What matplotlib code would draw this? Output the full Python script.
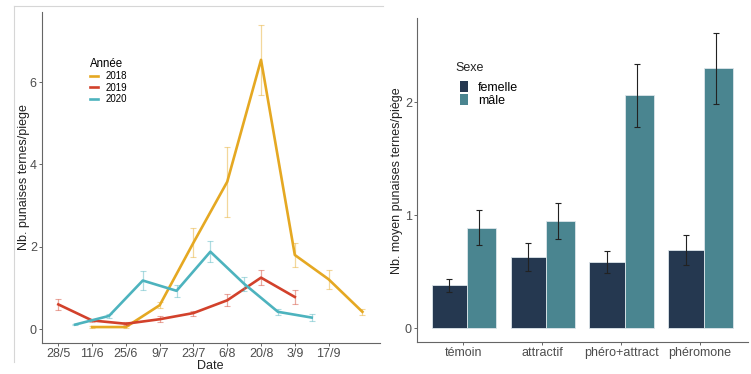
import numpy as np
import pandas as pd
import matplotlib
matplotlib.use("Agg")
import matplotlib.pyplot as plt
from matplotlib.lines import Line2D
from matplotlib.patches import Patch

plt.rcParams['font.family'] = ['Liberation Sans', 'DejaVu Sans']

# --- left panel data: mean bugs per trap by date and year
dates_2018 = ["11/6", "25/6", "9/7", "23/7", "6/8", "20/8", "3/9", "17/9", "1/10"]
vals_2018 = [0.05, 0.05, 0.58, 2.10, 3.58, 6.54, 1.80, 1.21, 0.42]
err_2018 = [0.02, 0.02, 0.07, 0.35, 0.85, 0.85, 0.28, 0.23, 0.08]

dates_2019 = ["28/5", "11/6", "25/6", "9/7", "23/7", "6/8", "20/8", "3/9"]
vals_2019 = [0.60, 0.21, 0.13, 0.24, 0.39, 0.70, 1.25, 0.78]
err_2019 = [0.14, 0.04, 0.04, 0.07, 0.06, 0.15, 0.19, 0.16]

dates_2020 = ["4/6", "18/6", "2/7", "16/7", "30/7", "13/8", "27/8", "10/9"]
vals_2020 = [0.11, 0.32, 1.18, 0.93, 1.88, 1.10, 0.42, 0.28]
err_2020 = [0.02, 0.05, 0.24, 0.15, 0.25, 0.17, 0.08, 0.09]

tick_dates = ["28/5", "11/6", "25/6", "9/7", "23/7", "6/8", "20/8", "3/9", "17/9"]

# --- right panel data: mean per trap type and sex
traps = ["témoin", "attractif", "phéro+attract", "phéromone"]
femelle = [0.38, 0.63, 0.585, 0.69]
femelle_err = [0.06, 0.12, 0.10, 0.135]
male = [0.89, 0.947, 2.06, 2.30]
male_err = [0.155, 0.16, 0.28, 0.315]


def doy(s):
    d, m = s.split("/")
    return pd.Timestamp(2018, int(m), int(d)).dayofyear


def style_axes(ax):
    for s in ["top", "right"]:
        ax.spines[s].set_visible(False)
    for s in ["left", "bottom"]:
        ax.spines[s].set_color("#666666")
        ax.spines[s].set_linewidth(0.8)
    ax.tick_params(colors="#666666", labelcolor="#4d4d4d", labelsize=9, length=2, width=0.7, pad=1.5)


fig = plt.figure(figsize=(7.51, 3.74), dpi=100)

# light frame around the left picture
fig.add_artist(Line2D([14/751, 14/751], [1-6/374, 1-362/374], color="#d6d6d6", lw=0.8))
fig.add_artist(Line2D([14/751, 383/751], [1-6/374, 1-6/374], color="#d6d6d6", lw=0.8))

ax1 = fig.add_axes([0.0555, 0.0837, 0.4505, 0.884])
style_axes(ax1)

series = [("2018", dates_2018, vals_2018, err_2018, "#E5A822"),
          ("2019", dates_2019, vals_2019, err_2019, "#D2412B"),
          ("2020", dates_2020, vals_2020, err_2020, "#4DB3BE")]
handles = []
for name, ds, vs, es, col in series:
    x = [doy(d) for d in ds]
    ax1.errorbar(x, vs, yerr=es, fmt="none", ecolor=col, alpha=0.45, elinewidth=0.9, capsize=2, capthick=0.8)
    ln, = ax1.plot(x, vs, color=col, lw=1.9, label=name)
    handles.append(ln)

ax1.set_xlim(141.1, 281.3)
ax1.set_ylim(-0.33, 7.7)
ax1.set_yticks([0, 2, 4, 6])
ax1.set_xticks([doy(d) for d in tick_dates])
ax1.set_xticklabels(tick_dates)

ax1.legend(handles=handles, title="Année", loc="upper left", bbox_to_anchor=(0.113, 0.858),
           bbox_transform=fig.transFigure, frameon=False, fontsize=7, title_fontsize=8.3,
           handlelength=0.85, handletextpad=0.8, labelspacing=0.15, borderpad=0, alignment="left")

fig.text(0.0326, 0.527, "Nb. punaises ternes/piege", rotation=90, ha="center", va="center", fontsize=9, color="#222222")
fig.text(0.2796, 0.022, "Date", ha="center", va="center", fontsize=9, color="#222222")

# --- right panel
ax2 = fig.add_axes([0.555, 0.0848, 0.441, 0.866])
style_axes(ax2)
x = np.arange(len(traps))
ax2.bar(x - 0.175, femelle, width=0.45, color="#253850", edgecolor="#dde6ea", lw=0.6)
ax2.bar(x + 0.2325, male, width=0.365, color="#4A8590", edgecolor="#dde6ea", lw=0.6)
ax2.errorbar(x - 0.177, femelle, yerr=femelle_err, fmt="none", ecolor="#222222", elinewidth=0.8, capsize=2, capthick=0.8)
ax2.errorbar(x + 0.2, male, yerr=male_err, fmt="none", ecolor="#222222", elinewidth=0.8, capsize=2, capthick=0.8)
ax2.set_xlim(-0.59, 3.61)
ax2.set_ylim(-0.124, 2.74)
ax2.set_yticks([0, 1, 2])
ax2.set_xticks(x)
ax2.set_xticklabels(traps)

leg_handles = [Patch(facecolor="#253850", label="femelle"), Patch(facecolor="#4A8590", label="mâle")]
ax2.legend(handles=leg_handles, loc="upper left", bbox_to_anchor=(0.604, 0.80),
           bbox_transform=fig.transFigure, frameon=False, fontsize=9,
           handlelength=0.65, handleheight=1.0, handletextpad=0.8, labelspacing=0.0, borderpad=0)
fig.text(0.606, 0.817, "Sexe", ha="left", va="center", fontsize=9, color="#222222")

fig.text(0.528, 0.517, "Nb. moyen punaises ternes/piège", rotation=90, ha="center", va="center", fontsize=9, color="#222222")

fig.savefig("out.png", dpi=100)
